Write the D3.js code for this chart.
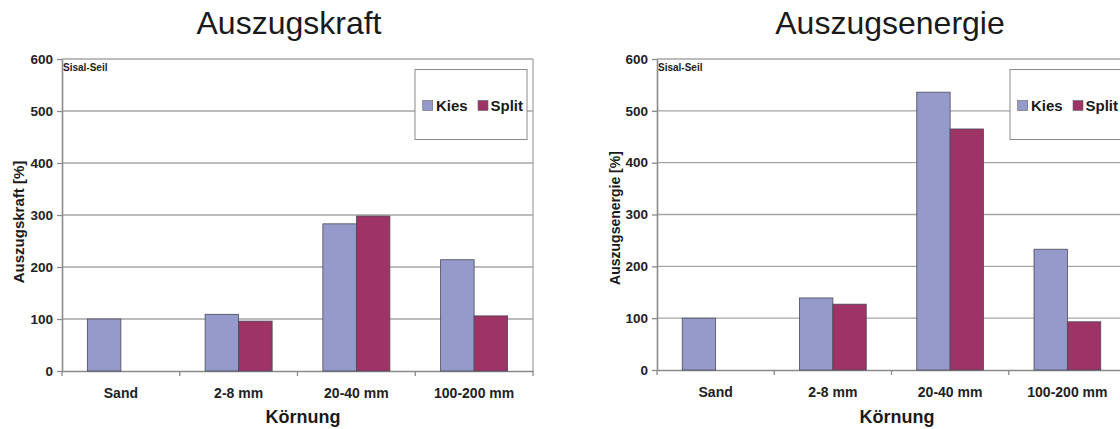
<!DOCTYPE html>
<html><head><meta charset="utf-8">
<script src="https://cdn.jsdelivr.net/npm/d3@7"></script>
<style>
html,body{margin:0;padding:0;background:#fff;}
svg{display:block;font-family:"Liberation Sans",Arial,sans-serif;}
</style></head>
<body>
<svg id="c" width="1120" height="429"></svg>
<script>
const categories = ["Sand", "2-8 mm", "20-40 mm", "100-200 mm"];
const seriesNames = ["Kies", "Split"];
const kraftKies = [100, 109, 283, 214];
const kraftSplit = [null, 96, 298, 106];
const energieKies = [100, 139, 536, 233];
const energieSplit = [null, 127, 465, 93];
const yTicks = [0, 100, 200, 300, 400, 500, 600];
const colors = ["#959aca", "#9e3366"];

const svg = d3.select("#c");

function drawChart(cfg) {
  const g = svg.append("g");
  const x0 = d3.scaleBand().domain(categories).range([cfg.left, cfg.right]).paddingInner(0).paddingOuter(0);
  const x1 = d3.scaleBand().domain(seriesNames).range([0, x0.bandwidth()]).paddingInner(0).paddingOuter(0.757);
  const y = d3.scaleLinear().domain([0, 600]).range([cfg.bottom, cfg.top]);

  // gridlines
  g.append("g").selectAll("line").data(yTicks.filter(d => d > 0)).join("line")
    .attr("x1", cfg.left).attr("x2", cfg.right)
    .attr("y1", d => y(d)).attr("y2", d => y(d))
    .attr("stroke", "#a6a6a6").attr("stroke-width", 1.3);
  // right border
  g.append("line").attr("x1", cfg.right).attr("x2", cfg.right)
    .attr("y1", cfg.top).attr("y2", cfg.bottom)
    .attr("stroke", "#a6a6a6").attr("stroke-width", 1.3);

  // y axis
  const yAxis = d3.axisLeft(y).tickValues(yTicks).tickSize(5).tickSizeOuter(0).tickPadding(4);
  const ya = g.append("g").attr("transform", `translate(${cfg.left},0)`).call(yAxis);
  ya.select(".domain").attr("stroke", "#8a8a8a").attr("stroke-width", 1.6);
  ya.selectAll(".tick line").attr("stroke", "#8a8a8a").attr("stroke-width", 1.3);
  ya.selectAll(".tick text").attr("font-size", 13.5).attr("font-weight", "bold")
    .attr("fill", "#222").attr("font-family", "Liberation Sans, Arial, sans-serif");

  // x axis
  const xAxis = d3.axisBottom(x0).tickSize(0).tickPadding(0);
  const xa = g.append("g").attr("transform", `translate(0,${cfg.bottom})`).call(xAxis);
  xa.select(".domain").attr("stroke", "#8a8a8a").attr("stroke-width", 1.6);
  xa.selectAll(".tick text").attr("font-size", 14).attr("font-weight", "bold")
    .attr("fill", "#222").attr("font-family", "Liberation Sans, Arial, sans-serif")
    .attr("dy", null).attr("y", 26.5);
  // boundary ticks
  const bounds = categories.map(c => x0(c)).concat([cfg.right]);
  g.append("g").selectAll("line").data(bounds).join("line")
    .attr("x1", d => d).attr("x2", d => d)
    .attr("y1", cfg.bottom).attr("y2", cfg.bottom + 5)
    .attr("stroke", "#8a8a8a").attr("stroke-width", 1.3);

  // bars
  const rows = [];
  categories.forEach((c, i) => {
    seriesNames.forEach((s, j) => {
      const v = cfg.series[j][i];
      if (v != null) rows.push({c, s, v, j});
    });
  });
  g.append("g").selectAll("rect").data(rows).join("rect")
    .attr("x", d => x0(d.c) + x1(d.s))
    .attr("width", x1.bandwidth())
    .attr("y", d => y(d.v))
    .attr("height", d => y(0) - y(d.v))
    .attr("fill", d => colors[d.j])
    .attr("stroke", "#4a4a5a").attr("stroke-width", 0.8);

  // Sisal-Seil
  g.append("text").attr("x", cfg.left + 1).attr("y", cfg.top + 12)
    .attr("font-size", 10).attr("font-weight", "bold").attr("fill", "#222").text("Sisal-Seil");

  // title
  g.append("text").attr("x", cfg.titleX).attr("y", 34).attr("text-anchor", "middle")
    .attr("font-size", 32).attr("fill", "#1a1a1a").text(cfg.title);

  // y label
  g.append("text").attr("transform", `translate(${cfg.yLabelX},${cfg.yLabelY}) rotate(-90)`)
    .attr("text-anchor", "middle").attr("font-size", cfg.yLabelSize).attr("font-weight", "bold")
    .attr("fill", "#1a1a1a").text(cfg.yLabel);

  // x label
  g.append("text").attr("x", cfg.xLabelX).attr("y", 423).attr("text-anchor", "middle")
    .attr("font-size", 18).attr("font-weight", "bold").attr("fill", "#1a1a1a").text("Körnung");

  // legend
  const lg = g.append("g").attr("transform", `translate(${cfg.legendX},69.5)`);
  lg.append("rect").attr("x", 0).attr("y", 0).attr("width", 112).attr("height", 70)
    .attr("fill", "#fff").attr("stroke", "#8a8a8a").attr("stroke-width", 1);
  const legOff = [[7.7, 21], [63, 75.5]];
  seriesNames.forEach((s, j) => {
    lg.append("rect").attr("x", legOff[j][0]).attr("y", 31).attr("width", 10).attr("height", 10)
      .attr("fill", colors[j]).attr("stroke", "#666").attr("stroke-width", 0.6);
    lg.append("text").attr("x", legOff[j][1]).attr("y", 41.5).attr("font-size", 15)
      .attr("font-weight", "bold").attr("fill", "#1a1a1a").text(s);
  });
}

drawChart({
  left: 62, right: 533, top: 59, bottom: 371,
  series: [kraftKies, kraftSplit],
  title: "Auszugskraft", titleX: 289,
  yLabel: "Auszugskraft [%]", yLabelX: 24, yLabelY: 222, yLabelSize: 15,
  xLabelX: 303, legendX: 415
});
drawChart({
  left: 657, right: 1126, top: 59, bottom: 370,
  series: [energieKies, energieSplit],
  title: "Auszugsenergie", titleX: 890,
  yLabel: "Auszugsenergie [%]", yLabelX: 620, yLabelY: 218, yLabelSize: 14,
  xLabelX: 897, legendX: 1010
});
</script>
</body></html>
